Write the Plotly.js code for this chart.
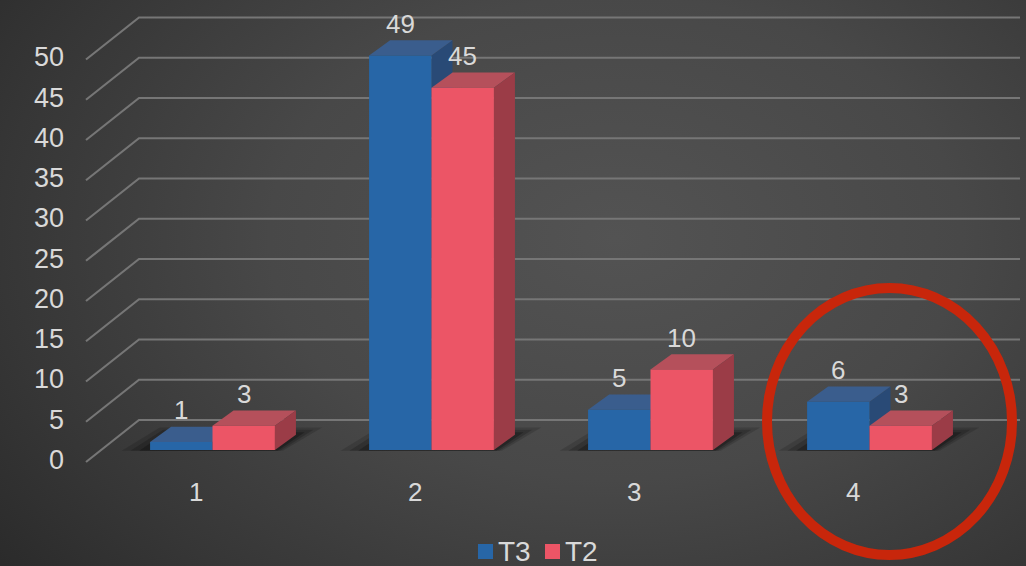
<!DOCTYPE html>
<html>
<head>
<meta charset="utf-8">
<script src="https://cdn.plot.ly/plotly-3.0.1.min.js"></script>
<style>
  html, body { margin: 0; padding: 0; width: 1026px; height: 566px; overflow: hidden; }
  body { background: radial-gradient(ellipse 75% 95% at 60% 42%, #535353 0%, #484848 45%, #363636 80%, #2b2b2b 100%); }
  #chart { width: 1026px; height: 566px; }
</style>
</head>
<body>
<div id="chart"></div>
<script>
// ---- data ----
const categories = ['1', '2', '3', '4'];
const t3Values = [1, 49, 5, 6];
const t2Values = [3, 45, 10, 3];
const seriesNames = ['T3', 'T2'];
const yTickValues = [0, 5, 10, 15, 20, 25, 30, 35, 40, 45, 50];

// ---- geometry / style (data units of the axes) ----
const W = 1026, H = 566;
const BW = 0.285;        // bar width
const DDX = 0.096;       // depth offset x
const DDY = 1.9;         // depth offset y
const WALL_FRONT_X = 0.4224, WALL_FRONT_DY = -1.49;
const WALL_BACK_X = 0.6644, WALL_BACK_DY = 3.727;
const WALL_END_X = 4.6872;
const TXT = '#d9d9d9';
const FONT = 'Liberation Sans, Arial, sans-serif';
const COL = {
  T3: { front: '#2766a7', top: '#3a5d8d', side: '#294a76' },
  T2: { front: '#ec5566', top: '#b5505b', side: '#9b3c47' }
};

const xs = categories.map((c, i) => i + 1);

const shapes = [];
// wall gridlines (diagonal + back line)
yTickValues.forEach(v => {
  shapes.push({
    type: 'path', xref: 'x', yref: 'y', layer: 'below',
    path: `M${WALL_FRONT_X},${v + WALL_FRONT_DY} L${WALL_BACK_X},${v + WALL_BACK_DY} L${WALL_END_X},${v + WALL_BACK_DY}`,
    line: { color: '#767676', width: 2.2 }
  });
});

// soft floor shadows under each group
function shadow(xl, xr, padL, padR, padUp, alpha) {
  return { type: 'path', xref: 'x', yref: 'y', layer: 'below',
    path: `M${xl - padL},${-0.1} L${xl + DDX - padL * 0.4},${DDY + padUp} L${xr + DDX + padR},${DDY + padUp} L${xr + padR * 0.3},${-0.1} Z`,
    fillcolor: `rgba(0,0,0,${alpha})`, line: { width: 0 } };
}
xs.forEach(xc => {
  shapes.push(shadow(xc - BW, xc + BW, 0.13, 0.12, 0.9, 0.14));
  shapes.push(shadow(xc - BW, xc + BW, 0.09, 0.08, 0.6, 0.18));
  shapes.push(shadow(xc - BW, xc + BW, 0.05, 0.04, 0.3, 0.25));
});

function topFace(xl, xr, v, color) {
  return { type: 'path', xref: 'x', yref: 'y', layer: 'below',
    path: `M${xl},${v} L${xl + DDX},${v + DDY} L${xr + DDX},${v + DDY} L${xr},${v} Z`,
    fillcolor: color, line: { width: 0 } };
}
function sideFace(xr, v, color) {
  return { type: 'path', xref: 'x', yref: 'y', layer: 'below',
    path: `M${xr},0 L${xr},${v} L${xr + DDX},${v + DDY} L${xr + DDX},${DDY} Z`,
    fillcolor: color, line: { width: 0 } };
}
xs.forEach((xc, i) => {
  shapes.push(sideFace(xc, t3Values[i], COL.T3.side));
  shapes.push(topFace(xc - BW, xc, t3Values[i], COL.T3.top));
  shapes.push(topFace(xc, xc + BW, t2Values[i], COL.T2.top));
  shapes.push(sideFace(xc + BW, t2Values[i], COL.T2.side));
});

// highlight circle around the 4th category
shapes.push({ type: 'circle', xref: 'paper', yref: 'paper', layer: 'above',
  x0: 767 / W, x1: 1012 / W, y0: 1 - 555 / H, y1: 1 - 288 / H,
  line: { color: '#c8260b', width: 10 } });

const annotations = [];
// y tick labels at the front end of the wall lines
yTickValues.forEach(v => {
  annotations.push({ x: WALL_FRONT_X, y: v + WALL_FRONT_DY, xref: 'x', yref: 'y',
    text: String(v), showarrow: false, xanchor: 'right', yanchor: 'middle', xshift: -20, yshift: 2,
    font: { family: FONT, size: 27, color: TXT } });
});
// category labels
xs.forEach((xc, i) => {
  annotations.push({ x: xc - 0.075, y: -5.16, xref: 'x', yref: 'y',
    text: categories[i], showarrow: false, xanchor: 'center', yanchor: 'middle',
    font: { family: FONT, size: 26, color: TXT } });
});
// value labels
xs.forEach((xc, i) => {
  annotations.push({ x: xc - BW / 2, y: t3Values[i], xref: 'x', yref: 'y',
    text: String(t3Values[i]), showarrow: false, xanchor: 'center', yanchor: 'middle', yshift: 32,
    font: { family: FONT, size: 26, color: TXT } });
  annotations.push({ x: xc + BW / 2, y: t2Values[i], xref: 'x', yref: 'y',
    text: String(t2Values[i]), showarrow: false, xanchor: 'center', yanchor: 'middle', yshift: 32,
    font: { family: FONT, size: 26, color: TXT } });
});

// legend (drawn as keys + labels at the bottom centre)
const legendKeyLeft = [478, 545];
seriesNames.forEach((name, k) => {
  const x0 = legendKeyLeft[k];
  shapes.push({ type: 'rect', xref: 'paper', yref: 'paper', layer: 'above',
    x0: x0 / W, x1: (x0 + 15) / W, y0: 1 - 559 / H, y1: 1 - 544 / H,
    fillcolor: COL[name].front, line: { width: 0 } });
  annotations.push({ x: (x0 + 18) / W, y: 1 - 551 / H, xref: 'paper', yref: 'paper',
    text: name, showarrow: false, xanchor: 'left', yanchor: 'middle',
    font: { family: FONT, size: 28, color: TXT } });
});

const traces = [
  { type: 'bar', name: seriesNames[0], x: xs, y: t3Values, width: BW, offset: -BW,
    marker: { color: COL.T3.front, line: { width: 0 } }, hoverinfo: 'skip' },
  { type: 'bar', name: seriesNames[1], x: xs, y: t2Values, width: BW, offset: 0,
    marker: { color: COL.T2.front, line: { width: 0 } }, hoverinfo: 'skip' }
];

const layout = {
  width: W, height: H,
  margin: { l: 0, r: 0, t: 0, b: 0, autoexpand: false },
  paper_bgcolor: 'rgba(0,0,0,0)', plot_bgcolor: 'rgba(0,0,0,0)',
  barmode: 'overlay',
  xaxis: { range: [0.0297, 4.7146], visible: false, fixedrange: true },
  yaxis: { range: [-14.41, 55.9], visible: false, fixedrange: true },
  showlegend: false,
  shapes: shapes,
  annotations: annotations
};

Plotly.newPlot('chart', traces, layout, { displayModeBar: false, staticPlot: true });
</script>
</body>
</html>
